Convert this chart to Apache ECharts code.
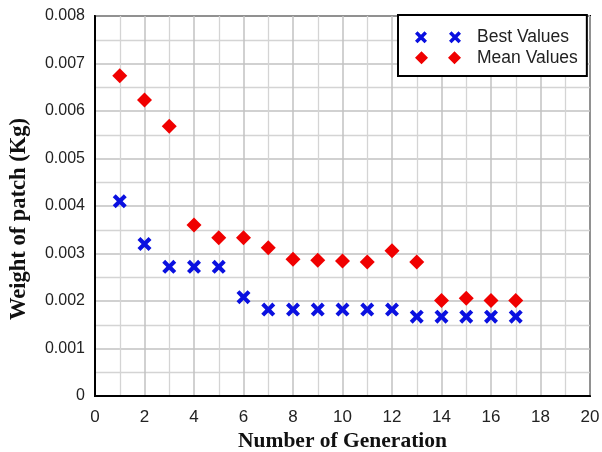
<!DOCTYPE html>
<html>
<head>
<meta charset="utf-8">
<script src="https://cdn.jsdelivr.net/npm/echarts@6/dist/echarts.min.js"></script>
<style>
  html, body { margin: 0; padding: 0; background: #fff; }
  #main { width: 602px; height: 452px; }
</style>
</head>
<body>
<div id="main"></div>
<script>
// generation number on x, weight in Kg on y
var generations = [1, 2, 3, 4, 5, 6, 7, 8, 9, 10, 11, 12, 13, 14, 15, 16, 17];
var bestValues = [0.0041, 0.0032, 0.00272, 0.00272, 0.00272, 0.00208, 0.00182, 0.00182, 0.00182, 0.00182, 0.00182, 0.00182, 0.00167, 0.00167, 0.00167, 0.00167, 0.00167];
var meanValues = [0.00674, 0.00623, 0.00568, 0.0036, 0.00333, 0.00333, 0.00312, 0.00288, 0.00286, 0.00284, 0.00282, 0.00306, 0.00282, 0.00201, 0.00206, 0.00201, 0.00201];
var seriesNames = ['Best Values', 'Mean Values'];

var crossPath = 'path://M0,2.5L2.5,0L6,3.5L9.5,0L12,2.5L8.5,6L12,9.5L9.5,12L6,8.5L2.5,12L0,9.5L3.5,6Z';
// legend shows two markers per entry, like the original
var crossPair = 'path://M0,2.5L2.5,0L6,3.5L9.5,0L12,2.5L8.5,6L12,9.5L9.5,12L6,8.5L2.5,12L0,9.5L3.5,6Z' +
  'M34,2.5L36.5,0L40,3.5L43.5,0L46,2.5L42.5,6L46,9.5L43.5,12L40,8.5L36.5,12L34,9.5L37.5,6Z';
var diamondPair = 'path://M6.5,0L13,6.5L6.5,13L0,6.5Z M39.5,0L46,6.5L39.5,13L33,6.5Z';

function pairs(ys) {
  var out = [];
  for (var i = 0; i < generations.length; i++) {
    out.push([generations[i], ys[i]]);
  }
  return out;
}

var chart = echarts.init(document.getElementById('main'), null, { renderer: 'canvas' });

var gridLine = { show: true, lineStyle: { color: '#c2c2c2', width: 1.5 } };
var minorLine = { show: true, lineStyle: { color: '#d4d4d4', width: 1.3 } };

var option = {
  backgroundColor: '#fff',
  animation: false,
  grid: {
    left: 95, right: 12, top: 16, bottom: 56,
    outerBoundsMode: 'none',
    containLabel: false,
    show: true,
    borderColor: '#000',
    borderWidth: 2,
    backgroundColor: 'transparent'
  },
  legend: {
    orient: 'vertical',
    left: 398,
    top: 15,
    padding: [13, 9, 9, 17],
    backgroundColor: '#fff',
    borderColor: '#000',
    borderWidth: 2,
    borderRadius: 0,
    itemWidth: 46,
    itemHeight: 13,
    itemGap: 2,
    textStyle: {
      fontFamily: 'Liberation Sans, Arial', fontSize: 17.5, lineHeight: 18.5,
      color: '#222', padding: [0, 0, 0, 11]
    },
    data: [
      { name: seriesNames[0], icon: crossPair },
      { name: seriesNames[1], icon: diamondPair }
    ]
  },
  xAxis: {
    type: 'value',
    min: 0, max: 20, interval: 2,
    name: 'Number of Generation',
    nameLocation: 'middle',
    nameGap: 32,
    nameTextStyle: { fontFamily: 'Liberation Serif, Times New Roman', fontWeight: 'bold', fontSize: 21.5, color: '#111' },
    axisLine: { show: true, lineStyle: { color: '#000', width: 2 } },
    axisTick: { show: false },
    axisLabel: { fontFamily: 'Liberation Sans, Arial', fontSize: 17, color: '#222', margin: 13 },
    splitLine: gridLine,
    minorTick: { show: false, splitNumber: 2 },
    minorSplitLine: minorLine
  },
  yAxis: {
    type: 'value',
    min: 0, max: 0.008, interval: 0.001,
    name: 'Weight of patch (Kg)',
    nameLocation: 'middle',
    nameGap: 64,
    nameTextStyle: {
      fontFamily: 'Liberation Serif, Times New Roman', fontWeight: 'bold', fontSize: 22.5, color: '#111',
      padding: [0, 26, 0, 0]
    },
    axisLine: { show: true, lineStyle: { color: '#000', width: 2 } },
    axisTick: { show: false },
    axisLabel: {
      fontFamily: 'Liberation Sans, Arial', fontSize: 16, color: '#222', margin: 10,
      formatter: function (v) { return v === 0 ? '0' : v.toFixed(3); }
    },
    splitLine: gridLine,
    minorTick: { show: false, splitNumber: 2 },
    minorSplitLine: minorLine
  },
  series: [
    {
      name: seriesNames[0],
      type: 'scatter',
      symbol: crossPath,
      symbolSize: 14,
      itemStyle: { color: '#0a10e0', opacity: 1 },
      z: 3,
      data: pairs(bestValues)
    },
    {
      name: seriesNames[1],
      type: 'scatter',
      symbol: 'diamond',
      symbolSize: 15,
      itemStyle: { color: '#f00000', opacity: 1 },
      z: 3,
      data: pairs(meanValues)
    }
  ]
};

chart.setOption(option);
</script>
</body>
</html>
